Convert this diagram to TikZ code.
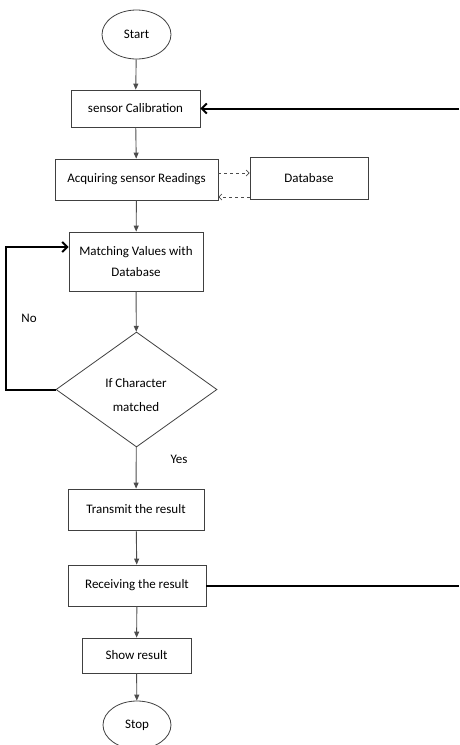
\documentclass[tikz,border=0pt]{standalone}
\usepackage{fontspec}
\setmainfont{Carlito}
\usetikzlibrary{shapes.geometric,arrows.meta}
\begin{document}
\begin{tikzpicture}[x=1pt,y=-1pt,
  every node/.style={font=\fontsize{13}{15.5}\selectfont, inner sep=0pt, align=center},
  box/.style={draw=black!75, rectangle, line width=0.8pt},
  term/.style={draw=black!75, ellipse, line width=0.8pt},
  dec/.style={draw=black!75, diamond, line width=0.8pt},
  flow/.style={draw=black!70, line width=0.9pt, -{Triangle[length=6pt,width=5pt]}},
  back/.style={draw=black, line width=2pt, -{Straight Barb[length=5pt,width=10pt]}},
  backline/.style={draw=black, line width=2pt},
  dashflow/.style={draw=black!70, dashed, line width=0.7pt, -{Straight Barb[length=3pt,width=6pt]}},
  lbl/.style={font=\fontsize{13}{15.5}\selectfont}]
\useasboundingbox (0,0) rectangle (459,745);
\node[term, minimum width=69pt, minimum height=49pt] (start) at (136.5,34.5) {Start};
\node[box, minimum width=129pt, minimum height=37pt] (cal) at (135.5,108.5) {sensor Calibration};
\node[box, minimum width=163pt, minimum height=41pt] (acq) at (136.5,179.5) {Acquiring sensor Readings};
\node[box, minimum width=118pt, minimum height=42pt] (db) at (309,178.5) {Database};
\node[box, minimum width=134pt, minimum height=59pt] (match) at (136,261.5) {Matching Values with\\[5pt]Database};
\node[dec, minimum width=161pt, minimum height=115pt] (dia) at (136.5,389.5) {};
\node at (136,395) {If Character\\[8pt]matched};
\node[box, minimum width=136pt, minimum height=41pt] (tx) at (136,509.5) {Transmit the result};
\node[box, minimum width=138pt, minimum height=41pt] (rx) at (137,585.5) {Receiving the result};
\node[box, minimum width=109pt, minimum height=35pt] (show) at (136.5,655.5) {Show result};
\node[term, minimum width=68pt, minimum height=48pt] (stop) at (137,725) {Stop};
\node[lbl] (no) at (29,318) {No};
\node[lbl] (yes) at (179,459) {Yes};
\coordinate (rtop) at (459,108.5);
\coordinate (rbot) at (459,585.5);
\coordinate (lx) at (6,389.5);
\coordinate (ly) at (6,247);
\draw[flow] (start) -- (cal);
\draw[flow] (cal) -- (acq);
\draw[flow] (acq) -- (match);
\draw[flow] (match) -- (dia);
\draw[flow] (dia) -- (tx);
\draw[flow] (tx) -- (rx);
\draw[flow] (rx) -- (show);
\draw[flow] (show) -- (stop);
\draw[back] (rtop) -- (cal.east);
\draw[backline] (rx.east) -- (rbot);
\draw[back] (dia.west) -- (lx) -- (ly) -- (match.west |- ly);
\draw[dashflow] (acq.east |- 0,173) -- (db.west |- 0,173);
\draw[dashflow] (db.west |- 0,197) -- (acq.east |- 0,197);
\end{tikzpicture}
\end{document}
